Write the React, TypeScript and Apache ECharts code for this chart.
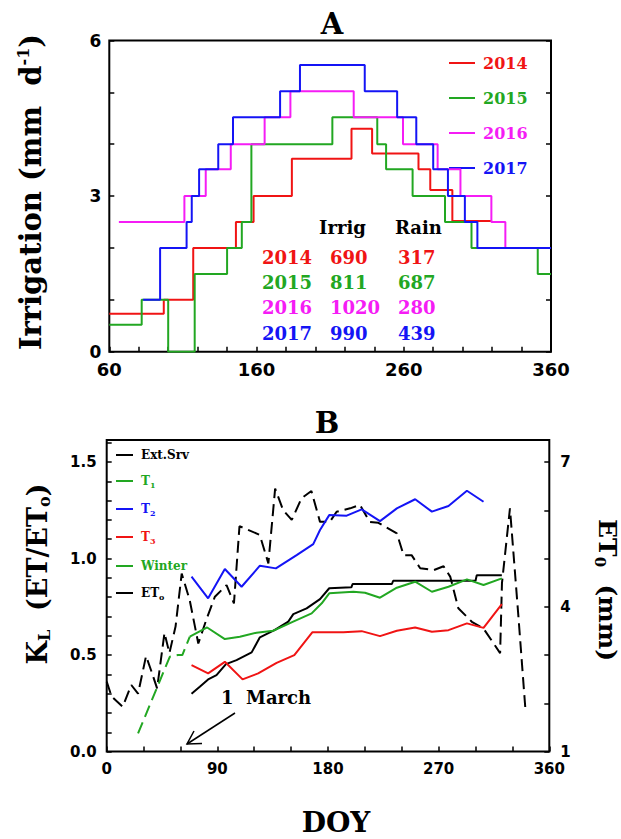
import React, { useEffect, useRef } from 'react';
import * as echarts from 'echarts';

// ---------- Panel A: irrigation schedules (DOY, mm d-1), step change points ----------
const irrig2014: number[][] = [[60, 0.73], [97, 1.0], [117, 2.0], [146, 2.5], [158, 3.0], [184, 3.72], [224.5, 4.3], [238.5, 3.82], [270, 3.52], [278, 3.12], [293, 2.52], [320, 2.52]];
const irrig2015: number[][] = [[60, 0.52], [82, 1.0], [100, 0], [118, 1.5], [140, 2.0], [150, 2.5], [156.5, 4.0], [211.5, 4.52], [242, 4.0], [248, 3.52], [266, 3.0], [288, 2.5], [306, 2.0], [351, 1.5], [360, 1.5]];
const irrig2016: number[][] = [[66.5, 2.5], [111, 3.0], [125.5, 3.52], [142.5, 4.0], [165.5, 4.52], [183, 5.02], [226, 4.52], [259.5, 4.0], [283, 3.52], [298.5, 3.0], [319.5, 2.5], [329, 2.0]];
const irrig2017: number[][] = [[83, 1.0], [94.5, 2.0], [112.5, 2.5], [116, 3.0], [121, 3.52], [134, 4.0], [144, 4.52], [176, 5.02], [189.5, 5.53], [233.5, 5.02], [255.5, 4.52], [268.5, 4.0], [280, 3.52], [290, 3.0], [301.5, 2.5], [310, 2.0], [360, 2.0]];
const years = ['2014', '2015', '2016', '2017'];
const irrigTotals = ['690', '811', '1020', '990'];
const rainTotals = ['317', '687', '280', '439'];

// ---------- Panel B: crop coefficients (DOY, KL) and ET0 (DOY, mm) ----------
const extSrv: number[][] = [[69, 0.3], [75.7, 0.336], [82.5, 0.374], [89.3, 0.396], [97, 0.453], [105.6, 0.474], [117.9, 0.514], [124.6, 0.592], [136.8, 0.63], [147.7, 0.673], [151.8, 0.712], [162.6, 0.742], [173.5, 0.79], [181, 0.846], [199, 0.851], [200, 0.868], [232, 0.868], [233, 0.885], [300, 0.885], [301, 0.914], [321.4, 0.914]];
const t1: number[][] = [[67.6, 0.595], [81.7, 0.643], [96.1, 0.583], [108.3, 0.595], [121.9, 0.616], [135.4, 0.626], [151.7, 0.673], [166.7, 0.716], [174.9, 0.768], [181, 0.82], [200.6, 0.828], [210.1, 0.823], [222.3, 0.797], [236, 0.849], [250.9, 0.88], [264.5, 0.828], [278, 0.854], [293, 0.892], [306.5, 0.863], [321.4, 0.897]];
const t2: number[][] = [[69, 0.906], [82.5, 0.794], [96.1, 0.946], [109.7, 0.854], [124.6, 0.963], [137.6, 0.949], [154.5, 1.018], [168, 1.075], [173.5, 1.148], [181, 1.225], [195.2, 1.222], [207.4, 1.255], [222.3, 1.194], [236, 1.26], [250.9, 1.307], [264.5, 1.243], [278, 1.272], [293, 1.351], [306.5, 1.294]];
const t3: number[][] = [[69, 0.448], [82.5, 0.405], [96.1, 0.465], [110.5, 0.374], [123.2, 0.405], [138.2, 0.46], [152.6, 0.5], [167.2, 0.618], [192.5, 0.618], [207.4, 0.624], [222.3, 0.598], [236, 0.626], [250.9, 0.643], [264.5, 0.621], [278, 0.629], [293, 0.664], [306.5, 0.641], [321.4, 0.764]];
const winter: number[][] = [[25.5, 0.094], [51.3, 0.491], [58, 0.5], [61.5, 0.5], [67.6, 0.595]];
const et0: number[][] = [[0, 2.45], [4, 2.14], [13, 1.93], [20, 2.38], [25.5, 2.2], [32, 2.98], [36, 2.69], [41, 2.31], [47, 3.46], [51, 3.04], [56, 3.59], [61, 4.69], [67.5, 4.14], [74.5, 3.24], [81, 3.73], [88, 4.21], [97.5, 4.45], [103.5, 4.07], [108, 5.67], [124.5, 5.49], [131.5, 4.9], [137, 6.45], [143.5, 6.0], [150.5, 5.8], [158.5, 6.25], [166.5, 6.4], [173.5, 5.76], [181.5, 5.76], [187, 5.97], [198, 6.04], [206, 6.11], [214, 5.76], [221, 5.74], [236, 5.52], [241.5, 5.07], [248, 5.07], [255, 4.8], [266, 4.76], [274, 4.84], [279.5, 4.62], [286, 3.97], [297, 3.69], [306.5, 3.55], [320, 3.04], [321.5, 4.49], [328, 6.04], [335, 3.76], [340.5, 1.9]];

const aXLabels = [60, 160, 260, 360];
const aYLabels = [0, 3, 6];
const bXLabels = [0, 90, 180, 270, 360];
const bYLabels = [0, 0.5, 1.0, 1.5];
const bY2Labels = [1, 4, 7];

const RED = '#f01414';
const GREEN = '#22a722';
const MAGENTA = '#f51cf5';
const BLUE = '#1414f5';
const yearColors = [RED, GREEN, MAGENTA, BLUE];

const SERIF = "'DejaVu Serif', serif";
const SANS = "'DejaVu Sans', sans-serif";

const near = (v: number, list: number[]) => list.some((t) => Math.abs(t - v) < 1e-6);

const tickStyle = { inside: true, length: 5, lineStyle: { color: '#000', width: 1.5 } };
const labelBase = { fontFamily: SANS, fontWeight: 'bold' as const, color: '#000' };

export default function App() {
  const ref = useRef<HTMLDivElement>(null);
  useEffect(() => {
    if (!ref.current) return;
    const chart = echarts.init(ref.current, undefined, { renderer: 'svg' });

    const graphics: any[] = [];
    // Titles
    graphics.push({ type: 'text', x: 332, y: 24, style: { text: 'A', font: `bold 29px ${SERIF}`, fill: '#000', align: 'center', verticalAlign: 'middle' } });
    graphics.push({ type: 'text', x: 327, y: 423, style: { text: 'B', font: `bold 29px ${SERIF}`, fill: '#000', align: 'center', verticalAlign: 'middle' } });
    // Axis titles
    graphics.push({
      type: 'text', x: 31, y: 192, rotation: Math.PI / 2,
      style: {
        text: '{a|Irrigation (mm  d}{p|-1}{a|)}', align: 'center', verticalAlign: 'middle',
        rich: {
          a: { fontFamily: SERIF, fontWeight: 'bold', fontSize: 29, fill: '#000' },
          p: { fontFamily: SERIF, fontWeight: 'bold', fontSize: 16, fill: '#000', padding: [0, 0, 15, 0], lineHeight: 10 },
        },
      },
    });
    graphics.push({
      type: 'text', x: 37, y: 574, rotation: Math.PI / 2,
      style: {
        text: '{a|K}{s|L}{a|  (ET/ET}{s|o}{a|)}', align: 'center', verticalAlign: 'middle',
        rich: {
          a: { fontFamily: SERIF, fontWeight: 'bold', fontSize: 27, fill: '#000' },
          s: { fontFamily: SERIF, fontWeight: 'bold', fontSize: 16, fill: '#000', padding: [14, 0, 0, 0], lineHeight: 10 },
        },
      },
    });
    graphics.push({
      type: 'text', x: 607, y: 590, rotation: -Math.PI / 2,
      style: {
        text: '{a|ET}{s|0}{a|  (mm)}', align: 'center', verticalAlign: 'middle',
        rich: {
          a: { fontFamily: SERIF, fontWeight: 'bold', fontSize: 25, fill: '#000' },
          s: { fontFamily: SERIF, fontWeight: 'bold', fontSize: 15, fill: '#000', padding: [14, 0, 0, 0], lineHeight: 10 },
        },
      },
    });
    graphics.push({ type: 'text', x: 336, y: 822, style: { text: 'DOY', font: `bold 28px ${SERIF}`, fill: '#000', align: 'center', verticalAlign: 'middle' } });

    // Legend A
    const legAY = [63, 98, 133, 168];
    years.forEach((yr, i) => {
      graphics.push({ type: 'line', shape: { x1: 449, y1: legAY[i], x2: 475, y2: legAY[i] }, style: { stroke: yearColors[i], lineWidth: 2 } });
      graphics.push({ type: 'text', x: 483, y: legAY[i], style: { text: yr, font: `bold 16px ${SERIF}`, fill: yearColors[i], align: 'left', verticalAlign: 'middle' } });
    });
    // Table A
    graphics.push({ type: 'text', x: 319, y: 227, style: { text: 'Irrig', font: `bold 18px ${SERIF}`, fill: '#000', align: 'left', verticalAlign: 'middle' } });
    graphics.push({ type: 'text', x: 395, y: 227, style: { text: 'Rain', font: `bold 18px ${SERIF}`, fill: '#000', align: 'left', verticalAlign: 'middle' } });
    const rowY = [257, 282, 307, 333];
    years.forEach((yr, i) => {
      const st = { font: `bold 18px ${SERIF}`, fill: yearColors[i], align: 'left', verticalAlign: 'middle' };
      graphics.push({ type: 'text', x: 262, y: rowY[i], style: { ...st, text: yr } });
      graphics.push({ type: 'text', x: 330, y: rowY[i], style: { ...st, text: irrigTotals[i] } });
      graphics.push({ type: 'text', x: 398, y: rowY[i], style: { ...st, text: rainTotals[i] } });
    });

    // Legend B
    const legB = [
      { t: '{a|Ext.Srv}', c: '#000' },
      { t: '{a|T}{s|1}', c: GREEN },
      { t: '{a|T}{s|2}', c: BLUE },
      { t: '{a|T}{s|3}', c: RED },
      { t: '{a|Winter}', c: GREEN },
      { t: '{a|ET}{s|o}', c: '#000' },
    ];
    const legBY = [455, 481, 509, 537, 566, 593];
    legB.forEach((l, i) => {
      graphics.push({ type: 'line', shape: { x1: 116, y1: legBY[i], x2: 133, y2: legBY[i] }, style: { stroke: l.c, lineWidth: 2 } });
      graphics.push({
        type: 'text', x: 141, y: legBY[i],
        style: {
          text: l.t, align: 'left', verticalAlign: 'middle',
          rich: {
            a: { fontFamily: SERIF, fontWeight: 'bold', fontSize: 12, fill: l.c },
            s: { fontFamily: SERIF, fontWeight: 'bold', fontSize: 8, fill: l.c, padding: [7, 0, 0, 0], lineHeight: 6 },
          },
        },
      });
    });

    // "1 March" annotation and arrow
    graphics.push({ type: 'text', x: 221, y: 697, style: { text: '1', font: `bold 18px ${SERIF}`, fill: '#000', align: 'left', verticalAlign: 'middle' } });
    graphics.push({ type: 'text', x: 246, y: 697, style: { text: 'March', font: `bold 18px ${SERIF}`, fill: '#000', align: 'left', verticalAlign: 'middle' } });
    graphics.push({ type: 'line', shape: { x1: 235, y1: 713, x2: 187, y2: 744 }, style: { stroke: '#000', lineWidth: 1.5 } });
    graphics.push({ type: 'polyline', shape: { points: [[202, 743.5], [187, 744], [194, 731]] }, style: { stroke: '#000', lineWidth: 1.5, fill: null } });

    const stepSeries = (data: number[][], color: string) => ({
      type: 'line', xAxisIndex: 0, yAxisIndex: 0, data, step: 'end', symbol: 'none',
      lineStyle: { color, width: 2 }, itemStyle: { color },
    });
    const bSeries = (name: string, data: number[][], color: string, yIdx: number, dashed = false) => ({
      name, type: 'line', xAxisIndex: 1, yAxisIndex: yIdx, data, symbol: 'none',
      lineStyle: { color, width: 2, type: dashed ? [12, 6] : 'solid' }, itemStyle: { color },
    });

    chart.setOption({
      animation: false,
      backgroundColor: '#fff',
      grid: [
        { left: 109.3, top: 40.5, width: 441.7, height: 311.2, show: true, borderColor: '#000', borderWidth: 2, backgroundColor: 'transparent' },
        { left: 106.7, top: 440, width: 442.6, height: 311.6, show: true, borderColor: '#000', borderWidth: 2, backgroundColor: 'transparent' },
      ],
      xAxis: [
        {
          type: 'value', gridIndex: 0, min: 60, max: 360, interval: 20,
          axisLine: { show: false }, axisTick: tickStyle, splitLine: { show: false },
          axisLabel: { ...labelBase, fontSize: 18, margin: 9, formatter: (v: number) => (near(v, aXLabels) ? String(v) : '') },
        },
        {
          type: 'value', gridIndex: 1, min: 0, max: 360, interval: 30,
          axisLine: { show: false }, axisTick: tickStyle, splitLine: { show: false },
          axisLabel: { ...labelBase, fontSize: 15, margin: 10, formatter: (v: number) => (near(v, bXLabels) ? String(v) : '') },
        },
      ],
      yAxis: [
        {
          type: 'value', gridIndex: 0, min: 0, max: 6, interval: 1,
          axisLine: { show: false }, axisTick: tickStyle, splitLine: { show: false },
          axisLabel: { ...labelBase, fontSize: 17, margin: 8, formatter: (v: number) => (near(v, aYLabels) ? String(v) : '') },
        },
        {
          type: 'value', gridIndex: 0, position: 'right', min: 0, max: 6, interval: 1,
          axisLine: { show: false }, axisTick: tickStyle, splitLine: { show: false }, axisLabel: { show: false },
        },
        {
          type: 'value', gridIndex: 1, min: 0, max: 1.614, interval: 0.1,
          axisLine: { show: false }, axisTick: tickStyle, splitLine: { show: false },
          axisLabel: { ...labelBase, fontSize: 15, margin: 10, formatter: (v: number) => (near(v, bYLabels) ? v.toFixed(1) : '') },
        },
        {
          type: 'value', gridIndex: 1, position: 'right', min: 1, max: 7.456, interval: 1,
          axisLine: { show: false }, axisTick: tickStyle, splitLine: { show: false },
          axisLabel: { ...labelBase, fontSize: 15, margin: 11, formatter: (v: number) => (near(v, bY2Labels) ? String(v) : '') },
        },
      ],
      series: [
        stepSeries(irrig2014, RED),
        stepSeries(irrig2015, GREEN),
        stepSeries(irrig2016, MAGENTA),
        stepSeries(irrig2017, BLUE),
        bSeries('ET0', et0, '#000', 3, true),
        bSeries('Winter', winter, GREEN, 2, true),
        bSeries('Ext.Srv', extSrv, '#000', 2),
        bSeries('T1', t1, GREEN, 2),
        bSeries('T3', t3, RED, 2),
        bSeries('T2', t2, BLUE, 2),
      ],
      graphic: graphics,
    });
    return () => chart.dispose();
  }, []);
  return <div ref={ref} style={{ position: 'absolute', left: 0, top: 0, width: 621, height: 839 }} />;
}
